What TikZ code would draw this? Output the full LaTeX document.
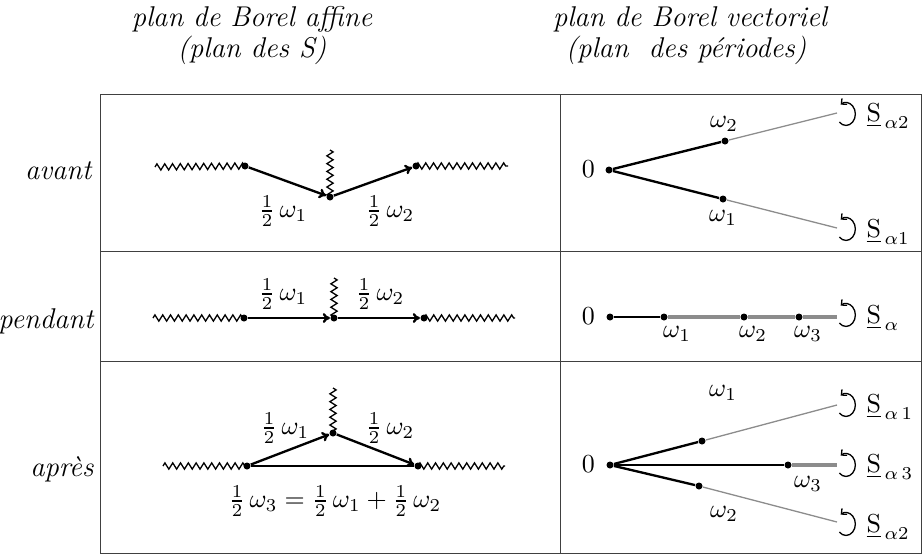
\documentclass[tikz,border=0pt]{standalone}
\usepackage{fontspec}
\usetikzlibrary{decorations.pathmorphing,arrows.meta}
\tikzset{
  dot/.style={circle,fill,inner sep=0pt,minimum size=2.7pt},
  wig/.style={decorate,decoration={zigzag,segment length=3pt,amplitude=1.2pt},line width=0.5pt},
  seg/.style={line width=0.9pt},
  arr/.style={seg,-{To[length=2.8pt,width=3.8pt]}},
  gridline/.style={line width=0.35pt,black!75},
  ray/.style={black!45,line width=0.5pt},
  rayb/.style={black!45,line width=1.2pt},
  rowlab/.style={anchor=east,inner sep=0pt,font=\fontsize{11}{13}\selectfont\itshape},
  head/.style={font=\fontsize{11}{13}\selectfont\itshape,align=center},
  slab/.style={anchor=west,inner sep=0pt},
  circarr/.pic={\draw[line width=0.5pt,-{Straight Barb[length=1.6pt,width=3pt]}]
     (-135:3.6pt and 4.4pt) arc[start angle=-135,end angle=125,x radius=3.6pt,y radius=4.4pt];}
}
\begin{document}
\begin{tikzpicture}[x=0.385pt,y=-0.385pt]
\useasboundingbox (0,0) rectangle (923,556);

% table
\coordinate (tl) at (100,94);
\coordinate (br) at (921,553);
\draw[gridline] (tl) rectangle (br);
\draw[gridline] (560,94) -- (560,553);
\draw[gridline] (100,251) -- (921,251);
\draw[gridline] (100,361) -- (921,361);

% headers
\node[head] (h1) at (252,19) {plan de Borel affine};
\node[head] (h1b) at (252,50) {(plan des S)};
\node[head] (h2) at (690,19) {plan de Borel vectoriel};
\node[head] (h2b) at (686,50) {(plan\ \ des périodes)};

% row labels
\node[rowlab] (ravant) at (92,171) {avant};
\node[rowlab] (rpendant) at (94,321) {pendant};
\node[rowlab] (rapres) at (94,469) {après};

% ---------- row 1, left
\coordinate (a1w) at (155,167);
\node[dot] (a1l) at (245,166) {};
\node[dot] (a1m) at (330,197) {};
\node[dot] (a1r) at (416,166) {};
\coordinate (a1e) at (508,166);
\coordinate (a1t) at (330,150);
\draw[wig] (a1w) -- (a1l.center);
\draw[wig] (a1r.center) -- (a1e);
\draw[wig] (a1t) -- (a1m.center);
\draw[arr] (a1l) -- (a1m);
\draw[arr] (a1m) -- (a1r);
\node (a1f1) at (283,211) {$\frac12\,\omega_1$};
\node (a1f2) at (390,211) {$\frac12\,\omega_2$};

% ---------- row 2, left
\coordinate (b1w) at (153,318);
\node[dot] (b1l) at (244,318) {};
\node[dot] (b1m) at (334,318) {};
\node[dot] (b1r) at (424,318) {};
\coordinate (b1e) at (515,318);
\coordinate (b1t) at (334,278);
\draw[wig] (b1w) -- (b1l.center);
\draw[wig] (b1r.center) -- (b1e);
\draw[wig] (b1t) -- (b1m.center);
\draw[arr] (b1l) -- (b1m);
\draw[arr] (b1m) -- (b1r);
\node (b1f1) at (283,294) {$\frac12\,\omega_1$};
\node (b1f2) at (380,294) {$\frac12\,\omega_2$};

% ---------- row 3, left
\coordinate (c1w) at (163,466);
\node[dot] (c1l) at (247,466) {};
\node[dot] (c1m) at (333,433) {};
\node[dot] (c1r) at (418,466) {};
\coordinate (c1e) at (505,466);
\coordinate (c1t) at (333,388);
\draw[wig] (c1w) -- (c1l.center);
\draw[wig] (c1r.center) -- (c1e);
\draw[wig] (c1t) -- (c1m.center);
\draw[line width=1.1pt] (c1l) -- (c1r);
\draw[arr] (c1l) -- (c1m);
\draw[arr] (c1m) -- (c1r);
\node (c1f1) at (285,428) {$\frac12\,\omega_1$};
\node (c1f2) at (390,428) {$\frac12\,\omega_2$};
\node (c1eq) at (335,501) {$\frac12\,\omega_3=\frac12\,\omega_1+\frac12\,\omega_2$};

% ---------- row 1, right
\node[dot] (o1) at (609,170) {};
\node[anchor=east] (z1) at (604,169) {$0$};
\node[dot] (p12) at (725,141) {};
\node[dot] (p11) at (723,199) {};
\coordinate (e12) at (837,113);
\coordinate (e11) at (837,228);
\draw[seg] (o1) -- (p12);
\draw[ray] (p12) -- (e12);
\draw[seg] (o1) -- (p11);
\draw[ray] (p11) -- (e11);
\node (w12) at (724,124) {$\omega_2$};
\node (w11) at (723,218) {$\omega_1$};
\pic at (846,114) {circarr};
\pic at (846,229) {circarr};
\node[slab] (s12) at (866,116) {$\underline{\mathrm{S}}_{\,\alpha2}$};
\node[slab] (s11) at (866,232) {$\underline{\mathrm{S}}_{\,\alpha1}$};

% ---------- row 2, right
\node[dot] (o2) at (610,317) {};
\node[anchor=east] (z2) at (604,316) {$0$};
\node[dot] (q1) at (664,317) {};
\node[dot] (q2) at (744,317) {};
\node[dot] (q3) at (799,317) {};
\coordinate (qe) at (837,317);
\draw[rayb] (q1) -- (q2);
\draw[rayb] (q2) -- (q3);
\draw[rayb] (q3) -- (qe);
\draw[seg,line width=1.1pt] (o2) -- (q1);
\node (wq1) at (677,334) {$\omega_1$};
\node (wq2) at (753,334) {$\omega_2$};
\node (wq3) at (808,334) {$\omega_3$};
\pic at (846,315) {circarr};
\node[slab] (sq) at (866,318) {$\underline{\mathrm{S}}_{\,\alpha}$};

% ---------- row 3, right
\node[dot] (o3) at (610,465) {};
\node[anchor=east] (z3) at (604,464) {$0$};
\node[dot] (r1) at (702,441) {};
\node[dot] (r3) at (788,465) {};
\node[dot] (r2) at (699,486) {};
\coordinate (f1) at (837,405);
\coordinate (f3) at (837,465);
\coordinate (f2) at (837,522);
\draw[seg] (o3) -- (r1);
\draw[ray] (r1) -- (f1);
\draw[seg,line width=0.7pt] (o3) -- (r3);
\draw[rayb] (r3) -- (f3);
\draw[seg] (o3) -- (r2);
\draw[ray] (r2) -- (f2);
\node (wr1) at (723,393) {$\omega_1$};
\node (wr3) at (808,484) {$\omega_3$};
\node (wr2) at (724,514) {$\omega_2$};
\pic at (846,405) {circarr};
\pic at (846,465) {circarr};
\pic at (846,524) {circarr};
\node[slab] (sr1) at (866,407) {$\underline{\mathrm{S}}_{\,\alpha\,1}$};
\node[slab] (sr3) at (866,467) {$\underline{\mathrm{S}}_{\,\alpha\,3}$};
\node[slab] (sr2) at (866,527) {$\underline{\mathrm{S}}_{\,\alpha2}$};
\end{tikzpicture}
\end{document}
